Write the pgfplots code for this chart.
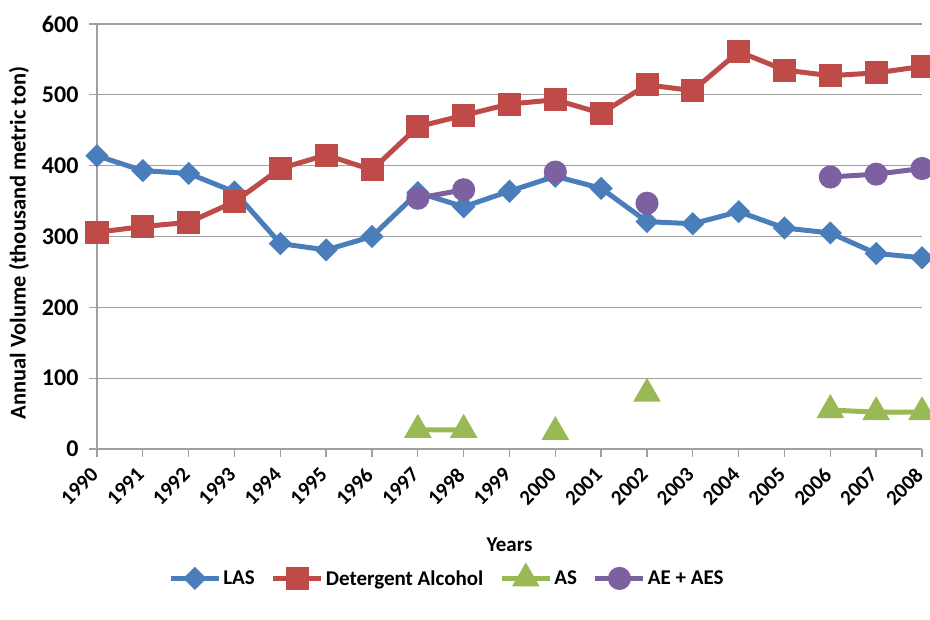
\documentclass[border=0pt]{standalone}
\usepackage{fontspec}
\setmainfont{Carlito}
\usepackage{pgfplots}
\pgfplotsset{compat=1.18}
\definecolor{las}{HTML}{4A7EBB}
\definecolor{det}{HTML}{BE4B48}
\definecolor{asc}{HTML}{98B954}
\definecolor{aec}{HTML}{7D60A0}
\definecolor{gridc}{HTML}{A0A0A0}
\newcommand{\lblfont}{\bfseries\fontsize{21}{24}\selectfont}
\begin{document}
\begin{tikzpicture}[x=1pt,y=1pt]
\useasboundingbox (0,0) rectangle (930,620);
\begin{axis}[
  at={(97pt,171pt)}, anchor=south west,
  scale only axis, width=825pt, height=425pt,
  xmin=1990, xmax=2008, ymin=0, ymax=600,
  xtick={1990,...,2008}, ytick={0,100,...,600},
  axis lines*=left, axis line style={gridc, line width=1.3pt, -},
  ymajorgrids, grid style={gridc, line width=1.3pt},
  tick style={gridc, line width=1.3pt},
  tick align=outside, major tick length=8pt,
  xtick pos=bottom, ytick pos=left,
  /pgf/number format/assume math mode=true,
  /pgf/number format/1000 sep={},
  yticklabel style={font=\bfseries\fontsize{24}{26}\selectfont, xshift=-7pt},
  xticklabel style={font=\bfseries\fontsize{21}{24}\selectfont, yshift=-12pt, rotate=45, anchor=east},
  xlabel={Years}, ylabel={Annual Volume (thousand metric ton)},
  xlabel style={at={(axis description cs:0.5,-0.226)}, anchor=center, font=\lblfont},
  ylabel style={at={(axis description cs:-0.0945,0.485)}, anchor=center, font=\bfseries\fontsize{22.5}{25}\selectfont},
  legend style={at={(axis description cs:0.4242,-0.3035)}, anchor=center, draw=none,
    legend columns=4, font=\lblfont, /tikz/every even column/.append style={column sep=14pt}},
  legend image code/.code={\draw[mark repeat=2,mark phase=2,#1] plot coordinates {(0pt,0pt) (24pt,0pt) (48pt,0pt)};},
  unbounded coords=jump,
  clip mode=individual,
]
\addplot[las, line width=5pt, mark=square*, mark size=5.7pt, mark options={rotate=45, solid}] coordinates {
(1990,414) (1991,393) (1992,389) (1993,363) (1994,290) (1995,281) (1996,300) (1997,362) (1998,342) (1999,364)
(2000,385) (2001,368) (2002,321) (2003,318) (2004,335) (2005,312) (2006,305) (2007,276) (2008,270)};
\addlegendentry{LAS}
\addplot[det, line width=5pt, mark=square*, mark size=9pt] coordinates {
(1990,306) (1991,314) (1992,320) (1993,349) (1994,396) (1995,415) (1996,394) (1997,455) (1998,471) (1999,487)
(2000,493) (2001,474) (2002,514) (2003,506) (2004,561) (2005,535) (2006,527) (2007,531) (2008,540)};
\addlegendentry{Detergent Alcohol}
\addplot[asc, line width=5pt, mark=triangle*, mark size=11pt] coordinates {
(1997,27) (1998,27) (1999,nan) (2000,24) (2001,nan) (2002,78) (2003,nan) (2006,55) (2007,52) (2008,52)};
\addlegendentry{AS}
\addplot[aec, line width=5pt, mark=*, mark size=9pt] coordinates {
(1997,354) (1998,366) (1999,nan) (2000,391) (2001,nan) (2002,347) (2003,nan) (2006,384) (2007,388) (2008,396)};
\addlegendentry{AE + AES}
\end{axis}
\end{tikzpicture}
\end{document}
